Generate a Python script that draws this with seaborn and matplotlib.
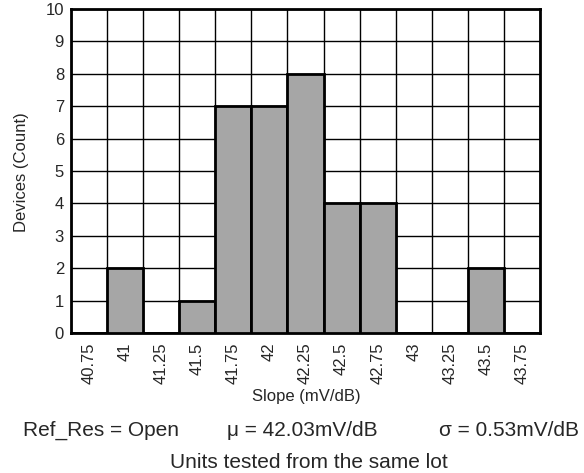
import matplotlib
matplotlib.use("Agg")
import matplotlib.pyplot as plt
import seaborn as sns
import pandas as pd
import numpy as np

categories = ["40.75", "41", "41.25", "41.5", "41.75", "42", "42.25", "42.5", "42.75", "43", "43.25", "43.5", "43.75"]
counts = [0, 2, 0, 1, 7, 7, 8, 4, 4, 0, 0, 2, 0]
y_ticks = list(range(0, 11))

sns.set_style("white")
plt.rcParams['font.family'] = ['Liberation Sans', 'DejaVu Sans']

df = pd.DataFrame({"Slope": categories, "Count": counts})

fig = plt.figure(figsize=(5.84, 4.73), dpi=100)
ax = fig.add_axes([71/584, 1-333/473, (540-71)/584, (333-9)/473])

sns.barplot(data=df, x="Slope", y="Count", order=categories, color="#a6a6a6",
            width=1.0, edgecolor="black", linewidth=2, saturation=1, ax=ax, zorder=3)

n = len(categories)
ax.set_xlim(-0.5, n - 0.5)
ax.set_ylim(0, 10)
ax.set_yticks(y_ticks)
ax.set_xticks(np.arange(-0.5, n, 1.0), minor=True)
ax.grid(True, which="minor", axis="x", color="black", linewidth=1, zorder=0)
ax.grid(True, which="major", axis="y", color="black", linewidth=1, zorder=0)
ax.set_axisbelow(True)
ax.tick_params(axis="x", which="both", length=0, labelsize=12, rotation=90, pad=7)
ax.tick_params(axis="y", length=0, labelsize=12, pad=5)
for s in ax.spines.values():
    s.set_visible(True)
    s.set_color("black")
    s.set_linewidth(2)
ax.set_xlabel("")
ax.set_ylabel("")
fig.text(306/584, 1-396/473, "Slope (mV/dB)", fontsize=12, ha="center", va="center")
fig.text(22/584, 1-172/473, "Devices (Count)", fontsize=12, ha="center", va="center", rotation=90)

fig.text(23/584, 1-430/473, "Ref_Res = Open", fontsize=15, ha="left", va="center")
fig.text(227/584, 1-430/473, "μ = 42.03mV/dB", fontsize=15, ha="left", va="center")
fig.text(579/584, 1-430/473, "σ = 0.53mV/dB", fontsize=15, ha="right", va="center")
fig.text(309/584, 1-462/473, "Units tested from the same lot", fontsize=15, ha="center", va="center")

fig.savefig("out.png", dpi=100)
